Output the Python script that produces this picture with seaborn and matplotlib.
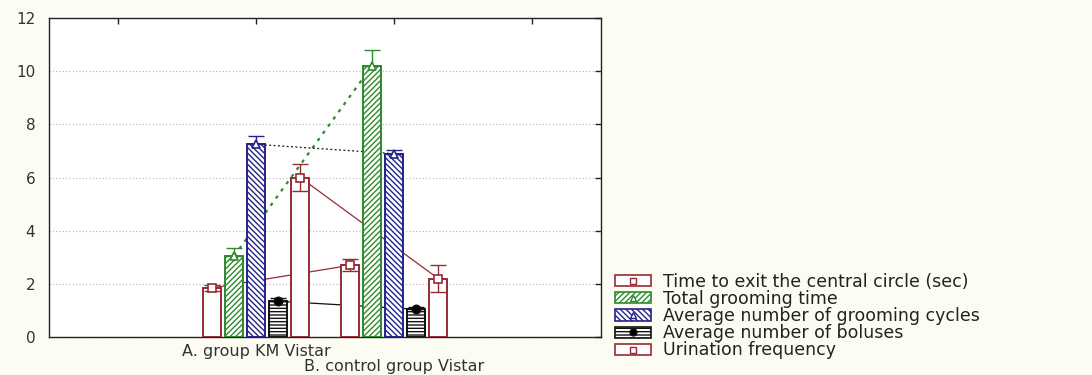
import matplotlib
matplotlib.use('Agg')
import matplotlib.pyplot as plt
import seaborn as sns
import pandas as pd
from matplotlib.patches import Patch
from matplotlib.lines import Line2D
from matplotlib.legend_handler import HandlerTuple
from matplotlib.container import BarContainer

# ---- data ----
groups = ['A. group KM Vistar', 'B. control group Vistar']
variables = ['Time to exit the central circle (sec)', 'Total grooming time',
             'Average number of grooming cycles', 'Average number of boluses',
             'Urination frequency']
means_A = [1.85, 3.05, 7.25, 1.35, 6.0]
means_B = [2.7, 10.2, 6.9, 1.05, 2.2]
err_A = [0.1, 0.3, 0.3, 0.12, 0.5]
err_B = [0.22, 0.6, 0.15, 0.1, 0.5]
yticks = [0, 2, 4, 6, 8, 10, 12]

# ---- styles ----
edge_colors = ['#962a35', '#2d8a2d', '#23238c', '#111111', '#962a35']
hatches = ['', '//////', '\\\\\\\\\\\\', '-----', '']
markers = ['s', '^', '^', 'o', 's']
marker_face = ['white', 'white', 'white', 'black', 'white']
line_colors = ['#962a35', '#2d8a2d', '#111111', '#111111', '#962a35']
line_styles = ['-', (0, (1.5, 2.5)), (0, (1.5, 2)), '-', '-']
line_widths = [0.9, 1.6, 0.9, 0.9, 0.9]
symmetric = [True, False, False, False, True]

sns.set_theme(style='white')
plt.rcParams['font.family'] = ['DejaVu Sans']
plt.rcParams['hatch.linewidth'] = 1.0

rows = []
for g, ms, es in zip(groups, [means_A, means_B], [err_A, err_B]):
    for v, m, e in zip(variables, ms, es):
        rows.append(dict(group=g, variable=v, mean=m, err=e))
df = pd.DataFrame(rows)

order = ['_pad0'] + groups + ['_pad1']

fig = plt.figure(figsize=(10.92, 3.75), dpi=100, facecolor='#fdfcf3')
ax = fig.add_axes([0.045, 0.101, 0.5055, 0.851])
ax.set_facecolor('white')
sns.barplot(data=df, x='group', y='mean', hue='variable', order=order,
            hue_order=variables, errorbar=None, width=0.8, gap=0.18,
            ax=ax, legend=False, zorder=3)

bar_conts = [c for c in ax.containers if isinstance(c, BarContainer)]
for i, cont in enumerate(bar_conts):
    pts = []
    for p in cont.patches:
        p.set_facecolor('white')
        p.set_edgecolor(edge_colors[i])
        p.set_hatch(hatches[i])
        p.set_linewidth(1.4)
        pts.append((p.get_x() + p.get_width() / 2, p.get_height()))
    pts.sort()
    xs = [q[0] for q in pts]
    ys = [q[1] for q in pts]
    errs = [err_A[i], err_B[i]]
    ax.plot(xs, ys, color=line_colors[i], ls=line_styles[i],
            lw=line_widths[i], zorder=2)
    yerr = errs if symmetric[i] else [[0, 0], errs]
    ax.errorbar(xs, ys, yerr=yerr, fmt='none', ecolor=edge_colors[i],
                elinewidth=1.0, capsize=6, capthick=1.0, zorder=4)
    ax.plot(xs, ys, marker=markers[i], ls='none', mfc=marker_face[i],
            mec=edge_colors[i], mew=1.2, ms=6, zorder=5)

ax.set_xlim(-0.5, 3.5)
ax.set_ylim(0, 12)
ax.set_yticks(yticks)
ax.set_yticklabels([str(t) for t in yticks])
ax.set_xticks(range(len(order)))
ax.set_xticklabels(['', groups[0], groups[1], ''], fontsize=11.5)
ax.set_xlabel('')
ax.set_ylabel('')
ax.yaxis.grid(True, linestyle=(0, (1, 2)), color='#b5b5b5', lw=0.8)
ax.xaxis.grid(False)
ax.set_axisbelow(True)
for s in ax.spines.values():
    s.set_visible(True)
    s.set_color('#222222')
    s.set_linewidth(1.0)
ax.tick_params(axis='both', direction='in', length=4, width=1, top=True,
               right=True, labelcolor='#333333', color='#222222')
ax.tick_params(axis='y', pad=10, labelsize=11)
ax.tick_params(axis='x', pad=5)
xt = ax.xaxis.get_major_ticks()
xt[2].set_pad(16)

handles = []
for i in range(len(variables)):
    handles.append((Patch(facecolor='white', edgecolor=edge_colors[i],
                          hatch=hatches[i], lw=1.2),
                    Line2D([], [], marker=markers[i], ls='none',
                           mfc=marker_face[i], mec=edge_colors[i], ms=5)))
fig.legend(handles, variables, handler_map={tuple: HandlerTuple(ndivide=1)},
           loc='center left', bbox_to_anchor=(0.563, 0.157), frameon=False,
           fontsize=12.5, labelspacing=-0.05, handlelength=2.1, handleheight=0.6,
           handletextpad=0.7, borderpad=0, borderaxespad=0, labelcolor='#222222')

fig.savefig('out.png', dpi=100, facecolor=fig.get_facecolor())
